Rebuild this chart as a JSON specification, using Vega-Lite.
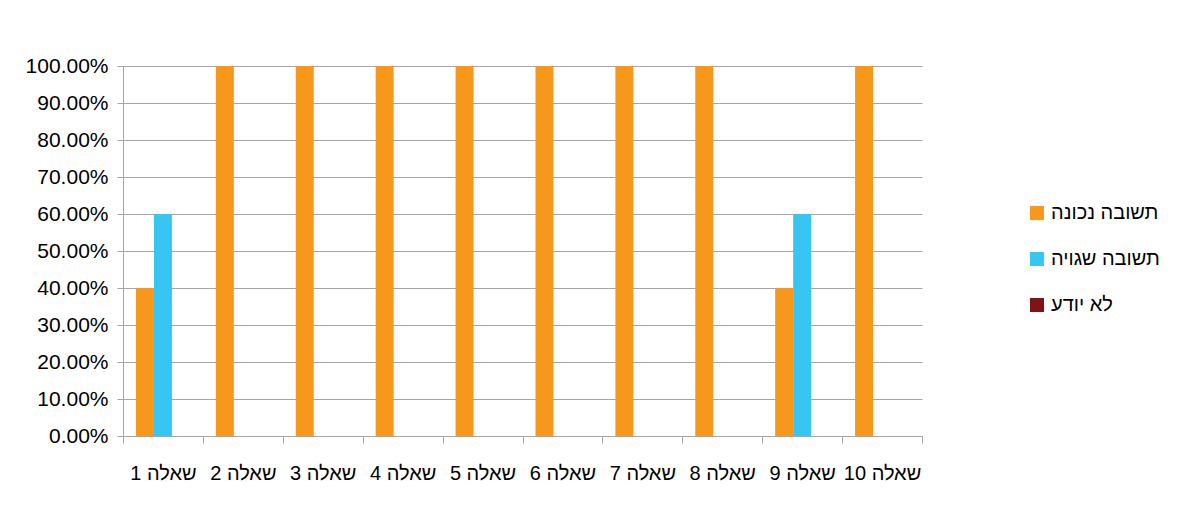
{
  "$schema": "https://vega.github.io/schema/vega-lite/v6.json",
  "width": 799,
  "height": 370,
  "autosize": "none",
  "padding": {"left": 123, "top": 66, "right": 264, "bottom": 79},
  "background": "white",
  "config": {"view": {"stroke": null}, "font": "Liberation Sans"},
  "data": {"values": [
    {"q": "שאלה 1", "a": "תשובה נכונה", "v": 0.4},
    {"q": "שאלה 1", "a": "תשובה שגויה", "v": 0.6},
    {"q": "שאלה 1", "a": "לא יודע", "v": 0},
    {"q": "שאלה 2", "a": "תשובה נכונה", "v": 1},
    {"q": "שאלה 2", "a": "תשובה שגויה", "v": 0},
    {"q": "שאלה 2", "a": "לא יודע", "v": 0},
    {"q": "שאלה 3", "a": "תשובה נכונה", "v": 1},
    {"q": "שאלה 3", "a": "תשובה שגויה", "v": 0},
    {"q": "שאלה 3", "a": "לא יודע", "v": 0},
    {"q": "שאלה 4", "a": "תשובה נכונה", "v": 1},
    {"q": "שאלה 4", "a": "תשובה שגויה", "v": 0},
    {"q": "שאלה 4", "a": "לא יודע", "v": 0},
    {"q": "שאלה 5", "a": "תשובה נכונה", "v": 1},
    {"q": "שאלה 5", "a": "תשובה שגויה", "v": 0},
    {"q": "שאלה 5", "a": "לא יודע", "v": 0},
    {"q": "שאלה 6", "a": "תשובה נכונה", "v": 1},
    {"q": "שאלה 6", "a": "תשובה שגויה", "v": 0},
    {"q": "שאלה 6", "a": "לא יודע", "v": 0},
    {"q": "שאלה 7", "a": "תשובה נכונה", "v": 1},
    {"q": "שאלה 7", "a": "תשובה שגויה", "v": 0},
    {"q": "שאלה 7", "a": "לא יודע", "v": 0},
    {"q": "שאלה 8", "a": "תשובה נכונה", "v": 1},
    {"q": "שאלה 8", "a": "תשובה שגויה", "v": 0},
    {"q": "שאלה 8", "a": "לא יודע", "v": 0},
    {"q": "שאלה 9", "a": "תשובה נכונה", "v": 0.4},
    {"q": "שאלה 9", "a": "תשובה שגויה", "v": 0.6},
    {"q": "שאלה 9", "a": "לא יודע", "v": 0},
    {"q": "שאלה 10", "a": "תשובה נכונה", "v": 1},
    {"q": "שאלה 10", "a": "תשובה שגויה", "v": 0},
    {"q": "שאלה 10", "a": "לא יודע", "v": 0}
  ]},
  "mark": {"type": "bar"},
  "encoding": {
    "x": {
      "field": "q", "type": "nominal", "sort": null,
      "scale": {"paddingInner": 0, "paddingOuter": 0},
      "axis": {"title": null, "labelAngle": 0, "labelFontSize": 20, "labelPadding": 20, "labelColor": "#000000",
               "tickBand": "extent", "domainColor": "#A6A6A6", "tickColor": "#A6A6A6", "tickSize": 7, "grid": false}
    },
    "y": {
      "field": "v", "type": "quantitative",
      "scale": {"domain": [0, 1], "nice": false},
      "axis": {"title": null, "format": ".2%", "values": [0, 0.1, 0.2, 0.3, 0.4, 0.5, 0.6, 0.7, 0.8, 0.9, 1],
               "labelFontSize": 21, "labelColor": "#000000", "labelPadding": 9,
               "gridColor": "#A6A6A6", "tickColor": "#A6A6A6", "domainColor": "#A6A6A6", "tickSize": 6}
    },
    "xOffset": {"field": "a", "type": "nominal", "sort": ["תשובה נכונה", "תשובה שגויה", "לא יודע"],
                "scale": {"paddingInner": 0, "paddingOuter": 0.722}},
    "color": {
      "field": "a", "type": "nominal",
      "scale": {"domain": ["תשובה נכונה", "תשובה שגויה", "לא יודע"], "range": ["#F7981D", "#37C6F2", "#7E1416"]},
      "legend": {"title": null, "orient": "none", "legendX": 904, "legendY": 137, "symbolType": "square",
                 "symbolSize": 196, "labelFontSize": 20, "labelColor": "#000000", "rowPadding": 26, "labelOffset": 4,
                 "symbolStrokeWidth": 0}
    }
  }
}
